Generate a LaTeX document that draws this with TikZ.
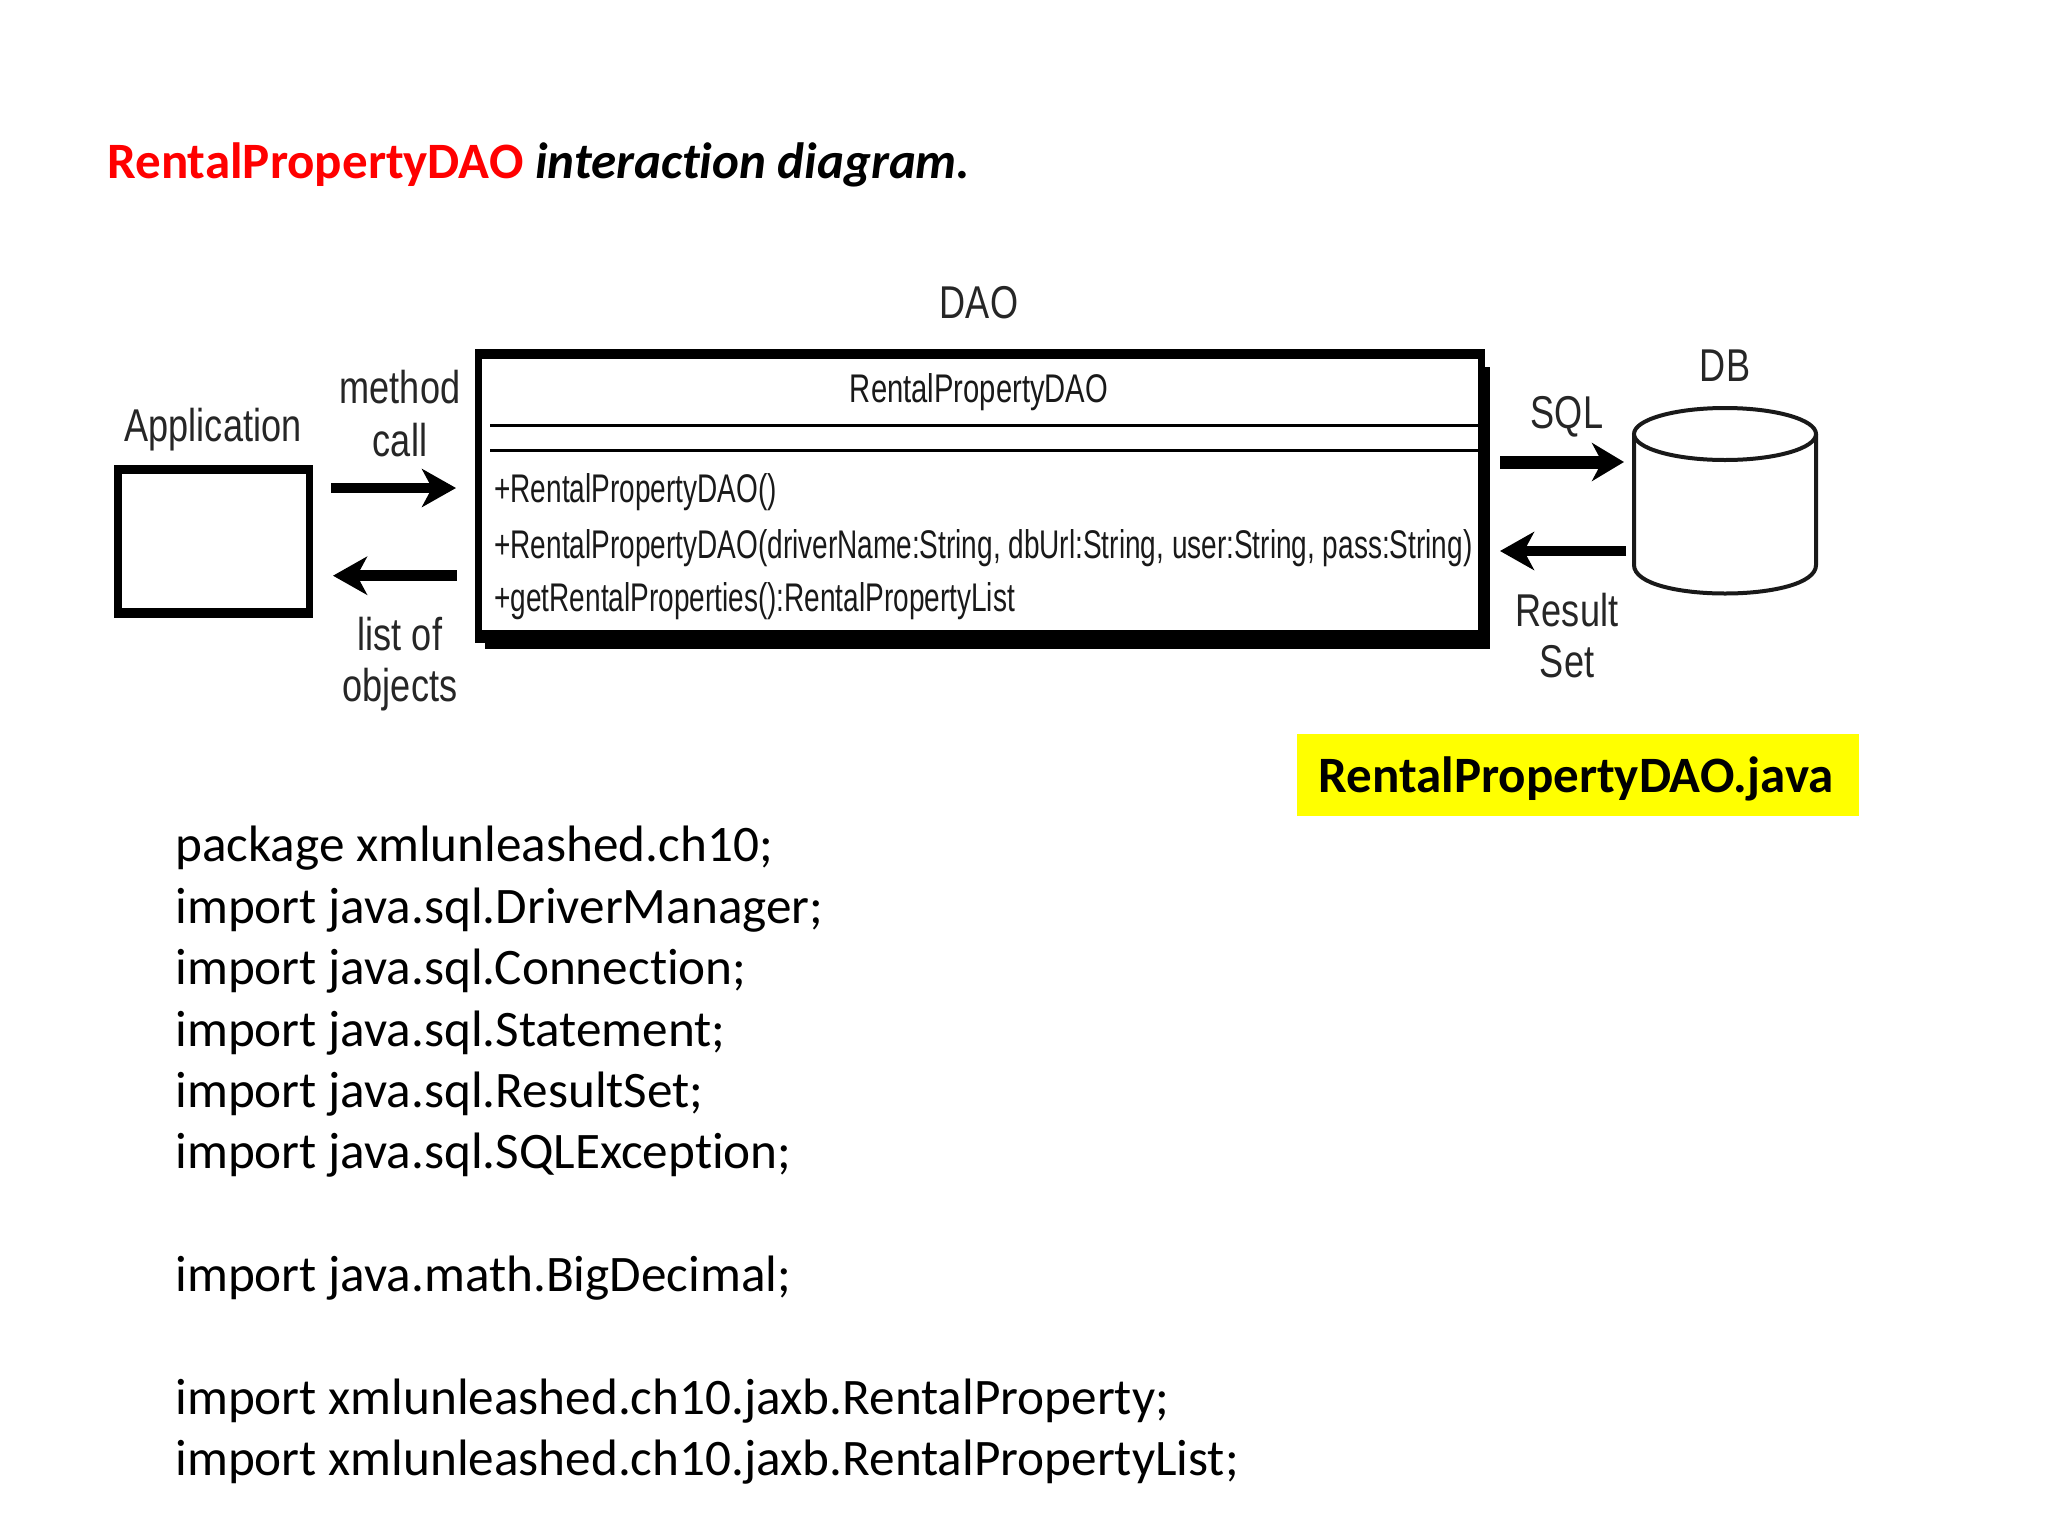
\documentclass[tikz,border=0pt]{standalone}
\usepackage{fontspec}
\usetikzlibrary{arrows.meta}
\setmainfont{Carlito}[RawFeature={-liga}]
\newfontfamily\figlabel[FakeStretch=0.785]{Liberation Sans}
\newfontfamily\figclass[FakeStretch=0.73]{Liberation Sans}
\newfontfamily\figmember[FakeStretch=0.70]{Liberation Sans}
\definecolor{titlered}{HTML}{FF0000}
\definecolor{hilite}{HTML}{FFFF00}
\tikzset{
  label/.style={font=\figlabel\fontsize{23}{27}\selectfont,inner sep=0pt,text=black!85},
  member/.style={font=\figmember\fontsize{20}{24}\selectfont,inner sep=0pt,anchor=base west,text=black!90},
  sink/.style={fill=black,draw=none},
  face/.style={fill=white,draw=none,inner sep=0pt,anchor=north west},
  flow/.style={line width=5.3pt,draw=black,-{Stealth[length=17pt,width=19pt,inset=5pt]}},
  flowb/.style={line width=6.5pt,draw=black,-{Stealth[length=16pt,width=19pt,inset=5pt]}},
  divider/.style={line width=1.5pt,draw=black},
  drum/.style={line width=2pt,draw=black!90},
  slide/.style={font=\fontsize{25.6}{30.7}\selectfont,inner sep=0pt},
  slideb/.style={font=\bfseries\fontsize{25.5}{30.7}\selectfont,inner sep=0pt},
}
\begin{document}
\begin{tikzpicture}[x=0.5pt,y=-0.5pt]
\useasboundingbox (0,0) rectangle (2048,1536);
% title
\node[slideb,anchor=base west] (title) at (107,178)
  {\textcolor{titlered}{RentalPropertyDAO} \textit{interaction diagram.}};
% application box
\fill[sink] (114,465) rectangle (313,618);
\node[face,minimum width=92pt,minimum height=67pt] (app) at (122,474) {};
\node[label] (applabel) at (213,430) {Application};
% DAO class box
\fill[sink] (485,367) rectangle (1490,649);
\fill[sink] (475,349) rectangle (1484.5,643);
\node[face,minimum width=497.75pt,minimum height=135.5pt] (dao) at (482,359) {};
\node[label] (daolabel) at (979,303) {DAO};
\node[font=\figclass\fontsize{20}{24}\selectfont,inner sep=0pt,anchor=base,text=black!90] (cname) at (979,402) {RentalPropertyDAO};
\coordinate (d1a) at (490,425.7);
\coordinate (d1b) at (dao.east |- d1a);
\coordinate (d2a) at (490,450.7);
\coordinate (d2b) at (dao.east |- d2a);
\draw[divider] (d1a) -- (d1b);
\draw[divider] (d2a) -- (d2b);
\node[member] (m1) at (494,502) {+RentalPropertyDAO()};
\node[member] (m2) at (494,558) {+RentalPropertyDAO(driverName:String, dbUrl:String, user:String, pass:String)};
\node[member] (m3) at (494,611) {+getRentalProperties():RentalPropertyList};
% flow labels
\node[label] (method) at (400,387) {method};
\node[label] (call) at (400,440) {call};
\node[label] (listof) at (400,634) {list of};
\node[label] (objects) at (400,690) {objects};
\node[label] (sql) at (1567,417) {SQL};
\node[label] (result) at (1567,610) {Result};
\node[label] (set) at (1567,662) {Set};
\node[label] (dblabel) at (1725,366) {DB};
% database
\coordinate (dbc) at (1725,434);
\draw[drum,fill=white] (1634,434) -- (1634,565) .. controls (1634,603) and (1816,603) .. (1816,565) -- (1816,434);
\draw[drum,fill=white] (dbc) ellipse[x radius=91,y radius=26];
% arrows
\coordinate (a1s) at (331,488);
\coordinate (a1e) at (456,488);
\coordinate (a2s) at (456.5,575.7);
\coordinate (a2e) at (333,575.7);
\coordinate (a3s) at (1500,462);
\coordinate (a3e) at (1624,462);
\coordinate (a4s) at (1626,551);
\coordinate (a4e) at (1500,551);
\draw[flow] (a1s) -- (a1e);
\draw[flow] (a2s) -- (a2e);
\draw[flowb] (a3s) -- (a3e);
\draw[flow] (a4s) -- (a4e);
% file tag
\node[fill=hilite,inner sep=0pt,anchor=north west,minimum width=281pt,minimum height=41pt] (tag) at (1297,734) {};
\node[slideb,anchor=base] (tagtext) at (1576,792) {RentalPropertyDAO.java};
% code
\node[slide,anchor=north west,align=left] (code) at (175,826) {%
package xmlunleashed.ch10;\\
import java.sql.DriverManager;\\
import java.sql.Connection;\\
import java.sql.Statement;\\
import java.sql.ResultSet;\\
import java.sql.SQLException;\\
\mbox{}\\
import java.math.BigDecimal;\\
\mbox{}\\
import xmlunleashed.ch10.jaxb.RentalProperty;\\
import xmlunleashed.ch10.jaxb.RentalPropertyList;};
\end{tikzpicture}
\end{document}
